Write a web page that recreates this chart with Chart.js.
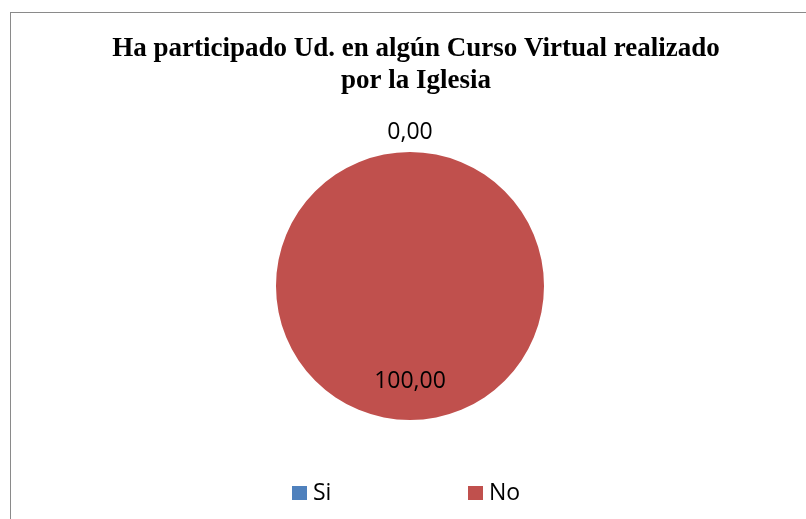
<!DOCTYPE html>
<html>
<head>
<meta charset="utf-8">
<script src="https://cdn.jsdelivr.net/npm/chart.js@4.4.1/dist/chart.umd.min.js"></script>
<style>
  html, body { margin: 0; padding: 0; background: #ffffff; }
  #wrap { position: relative; width: 806px; height: 519px; overflow: hidden; }
  #frame { position: absolute; left: 10px; top: 12px; width: 900px; height: 600px;
           border-left: 1px solid #8a8a8a; border-top: 1px solid #8a8a8a; }
  #ParticipacionChart { position: absolute; left: 0; top: 0; }
</style>
</head>
<body>
<div id="wrap">
  <div id="frame"></div>
  <canvas id="ParticipacionChart" width="806" height="519"></canvas>
</div>
<script>
var Categorias = ['Si', 'No'];
var Porcentajes = [0.00, 100.00];
var Colores = ['#4F81BD', '#C0504D'];
var Titulo = ['Ha participado Ud. en algún Curso Virtual realizado', 'por la Iglesia'];

function FormatoValor(v) {
    return v.toFixed(2).replace('.', ',');
}

// moves the pie a little left of the title centre, as in the original
var AjustePie = {
    id: 'ajustePie',
    afterLayout: function (chart) {
        chart.chartArea.left -= 6;
        chart.chartArea.right -= 6;
    }
};

var EtiquetasDatos = {
    id: 'etiquetasDatos',
    afterDatasetsDraw: function (chart) {
        var ctx = chart.ctx;
        var meta = chart.getDatasetMeta(0);
        ctx.save();
        ctx.font = '23px "Open Sans"';
        ctx.fillStyle = '#000000';
        ctx.textAlign = 'center';
        ctx.textBaseline = 'middle';
        meta.data.forEach(function (arc, i) {
            var p = arc.getProps(['x', 'y', 'startAngle', 'endAngle', 'outerRadius'], true);
            var mid = (p.startAngle + p.endAngle) / 2;
            var dist = Porcentajes[i] === 0 ? p.outerRadius + 20 : p.outerRadius * 0.715;
            ctx.fillText(FormatoValor(Porcentajes[i]), p.x + Math.cos(mid) * dist, p.y + Math.sin(mid) * dist);
        });
        ctx.restore();
    }
};

var LeyendaInferior = {
    id: 'leyendaInferior',
    afterDraw: function (chart) {
        var ctx = chart.ctx;
        var x = 292, y = 493;
        ctx.save();
        ctx.font = '23px "Open Sans"';
        ctx.textBaseline = 'middle';
        ctx.textAlign = 'left';
        Categorias.forEach(function (cat, i) {
            var bx = x + i * 176;
            ctx.fillStyle = Colores[i];
            ctx.fillRect(bx, y - 7, 15, 14);
            ctx.fillStyle = '#000000';
            ctx.fillText(cat, bx + 21, y);
        });
        ctx.restore();
    }
};

var ctxPie = document.getElementById('ParticipacionChart').getContext('2d');
new Chart(ctxPie, {
    type: 'pie',
    data: {
        labels: Categorias,
        datasets: [
            {
                data: Porcentajes,
                backgroundColor: Colores,
                borderWidth: 0,
                hoverOffset: 0
            }
        ]
    },
    options: {
        responsive: false,
        animation: false,
        layout: {
            padding: { top: 0, bottom: 99, left: 26, right: 0 }
        },
        plugins: {
            legend: { display: false },
            tooltip: { enabled: false },
            title: {
                display: true,
                text: Titulo,
                color: '#000000',
                font: { family: '"Liberation Serif"', size: 27, weight: 'bold', lineHeight: 1.185 },
                padding: { top: 33, bottom: 55 }
            }
        }
    },
    plugins: [AjustePie, EtiquetasDatos, LeyendaInferior]
});
</script>
</body>
</html>
